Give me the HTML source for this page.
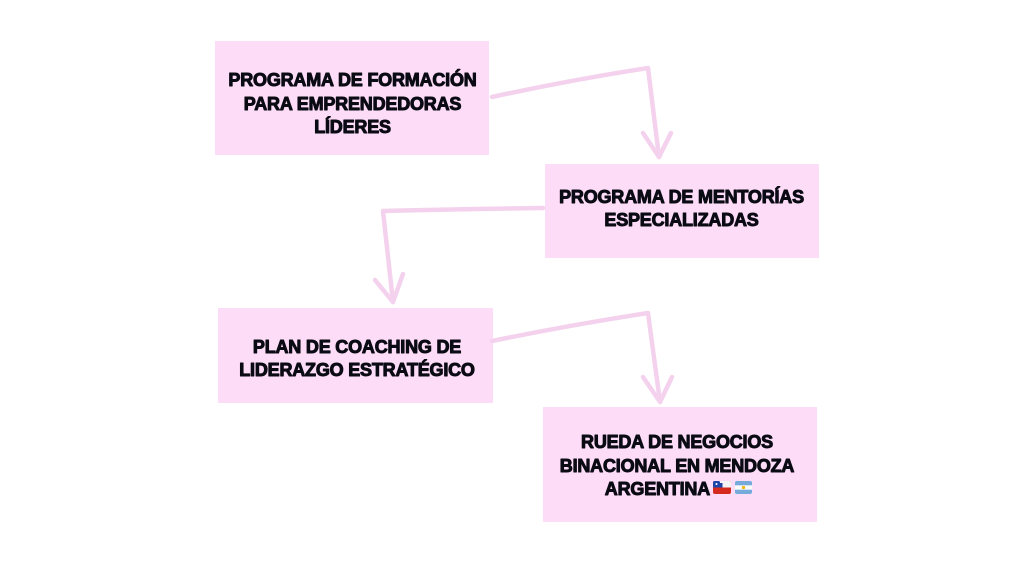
<!DOCTYPE html>
<html><head><meta charset="utf-8"><style>
html,body{margin:0;padding:0;background:#fff;}
svg{display:block;}
text{font-family:"Liberation Sans",sans-serif;font-weight:bold;font-size:18px;fill:#0b0b14;stroke:#0b0b14;stroke-width:1px;stroke-linejoin:round;text-anchor:middle;letter-spacing:-0.2px;}
</style></head><body>
<svg width="1024" height="576" viewBox="0 0 1024 576" xmlns="http://www.w3.org/2000/svg">
<rect width="1024" height="576" fill="#fff"/>
<g fill="#fddcf7">
<rect x="215" y="41" width="274" height="114"/>
<rect x="545" y="164" width="274" height="94"/>
<rect x="218" y="308" width="275" height="95"/>
<rect x="543" y="407" width="274" height="115"/>
</g>
<g fill="none" stroke="#f4d2ee" stroke-width="4.5" stroke-linecap="round" stroke-linejoin="round">
<path d="M492,97 Q570,80 648,68 L659,157"/>
<path d="M643,133 L659,157 L671,133"/>
<path d="M543,208 Q460,209 383,211 L393,302"/>
<path d="M375,280 L393,302 L403,274"/>
<path d="M492,341 Q570,325 648,313 L660,402"/>
<path d="M643,377 L660,402 L672,377"/>
</g>
<text x="352.5" y="86">PROGRAMA DE FORMACIÓN</text>
<text x="352.5" y="110">PARA EMPRENDEDORAS</text>
<text x="352.5" y="133">LÍDERES</text>
<text x="681.5" y="203">PROGRAMA DE MENTORÍAS</text>
<text x="681.5" y="226">ESPECIALIZADAS</text>
<text x="357" y="353">PLAN DE COACHING DE</text>
<text x="357" y="376">LIDERAZGO ESTRATÉGICO</text>
<text x="677" y="448">RUEDA DE NEGOCIOS</text>
<text x="677" y="472">BINACIONAL EN MENDOZA</text>
<text x="710" y="495" style="text-anchor:end">ARGENTINA</text>
<g>
<rect x="713" y="481" width="18" height="13" rx="2" fill="#d52b1e"/>
<rect x="713" y="481" width="18" height="6.5" rx="2" fill="#f4f4f4"/>
<rect x="713" y="484" width="18" height="3.5" fill="#f4f4f4"/>
<rect x="713" y="481" width="7" height="6.5" rx="1.5" fill="#1f45a8"/>
<rect x="715.5" y="483" width="7" height="4.5" fill="#1f45a8"/>
<rect x="713" y="484" width="9.5" height="3.5" fill="#1f45a8"/>
<circle cx="716.5" cy="484" r="1" fill="#fff"/>
<rect x="735" y="481" width="17" height="13" rx="2" fill="#75aadb"/>
<rect x="735" y="485.3" width="17" height="4.4" fill="#fafafa"/>
<circle cx="743.5" cy="487.5" r="1.6" fill="#f6b40e"/>
</g>
</svg>
</body></html>
